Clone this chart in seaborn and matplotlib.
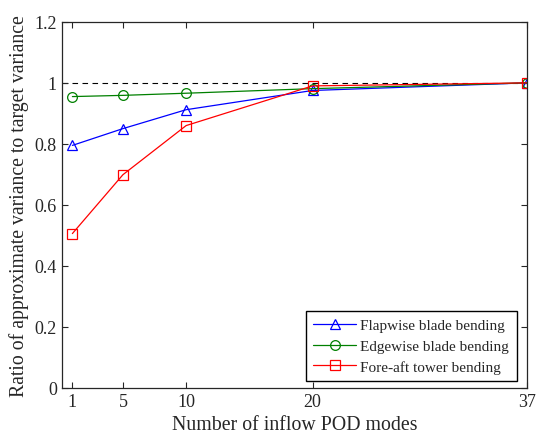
import pandas as pd
import seaborn as sns
import matplotlib.pyplot as plt

# number of inflow POD modes
modes = [1, 5, 10, 20, 37]
flapwise = [0.795, 0.850, 0.912, 0.975, 1.0]
edgewise = [0.955, 0.959, 0.966, 0.981, 1.0]
fore_aft = [0.506, 0.699, 0.860, 0.990, 1.0]

series_names = ["Flapwise blade bending", "Edgewise blade bending", "Fore-aft tower bending"]
series_colors = ["blue", "green", "red"]
series_markers = ["^", "o", "s"]

sns.set_style("ticks")
plt.rcParams['font.family'] = ['Liberation Serif', 'DejaVu Serif']

df = pd.DataFrame({
    "modes": modes * 3,
    "ratio": flapwise + edgewise + fore_aft,
    "case": [n for n in series_names for _ in modes],
})

fig = plt.figure(figsize=(5.36, 4.39), dpi=100)
ax = fig.add_axes([0.115, 0.114, 0.869, 0.834])

sns.lineplot(data=df, x="modes", y="ratio", hue="case", style="case",
             hue_order=series_names, style_order=series_names,
             palette=dict(zip(series_names, series_colors)),
             markers=dict(zip(series_names, series_markers)),
             dashes=False, markersize=7, markerfacecolor="none",
             markeredgewidth=0.9, linewidth=0.9, ax=ax)

# markers: hollow with coloured edges
for line, c in zip(ax.get_lines(), series_colors):
    line.set_markeredgecolor(c)
    line.set_markerfacecolor("none")

ax.axhline(1.0, color="black", linestyle=(0, (5, 4)), linewidth=0.8, zorder=0)

ax.set_xlim(0.15, 37)
ax.set_ylim(0, 1.2)
ax.set_xticks(modes)
ax.set_yticks([0, 0.2, 0.4, 0.6, 0.8, 1.0, 1.2])
ax.set_yticklabels(["0", "0.2", "0.4", "0.6", "0.8", "1", "1.2"])
ax.tick_params(direction="in", top=True, right=True, labelsize=13, length=4)
for s in ax.spines.values():
    s.set_visible(True)
    s.set_linewidth(0.9)
ax.set_xlabel("Number of inflow POD modes", fontsize=14.3)
ax.set_ylabel("Ratio of approximate variance to target variance", fontsize=14.2)

leg = ax.legend(loc="lower right", bbox_to_anchor=(0.977, 0.018), borderaxespad=0,
                fontsize=11, fancybox=False, framealpha=1, edgecolor="black",
                handlelength=2.8, handletextpad=0.27, borderpad=0.5, labelspacing=0.45)
leg.get_frame().set_linewidth(1.0)
for h, c in zip(leg.get_lines(), series_colors):
    h.set_markerfacecolor("none")
    h.set_markeredgecolor(c)

fig.savefig("out.png", dpi=100)
